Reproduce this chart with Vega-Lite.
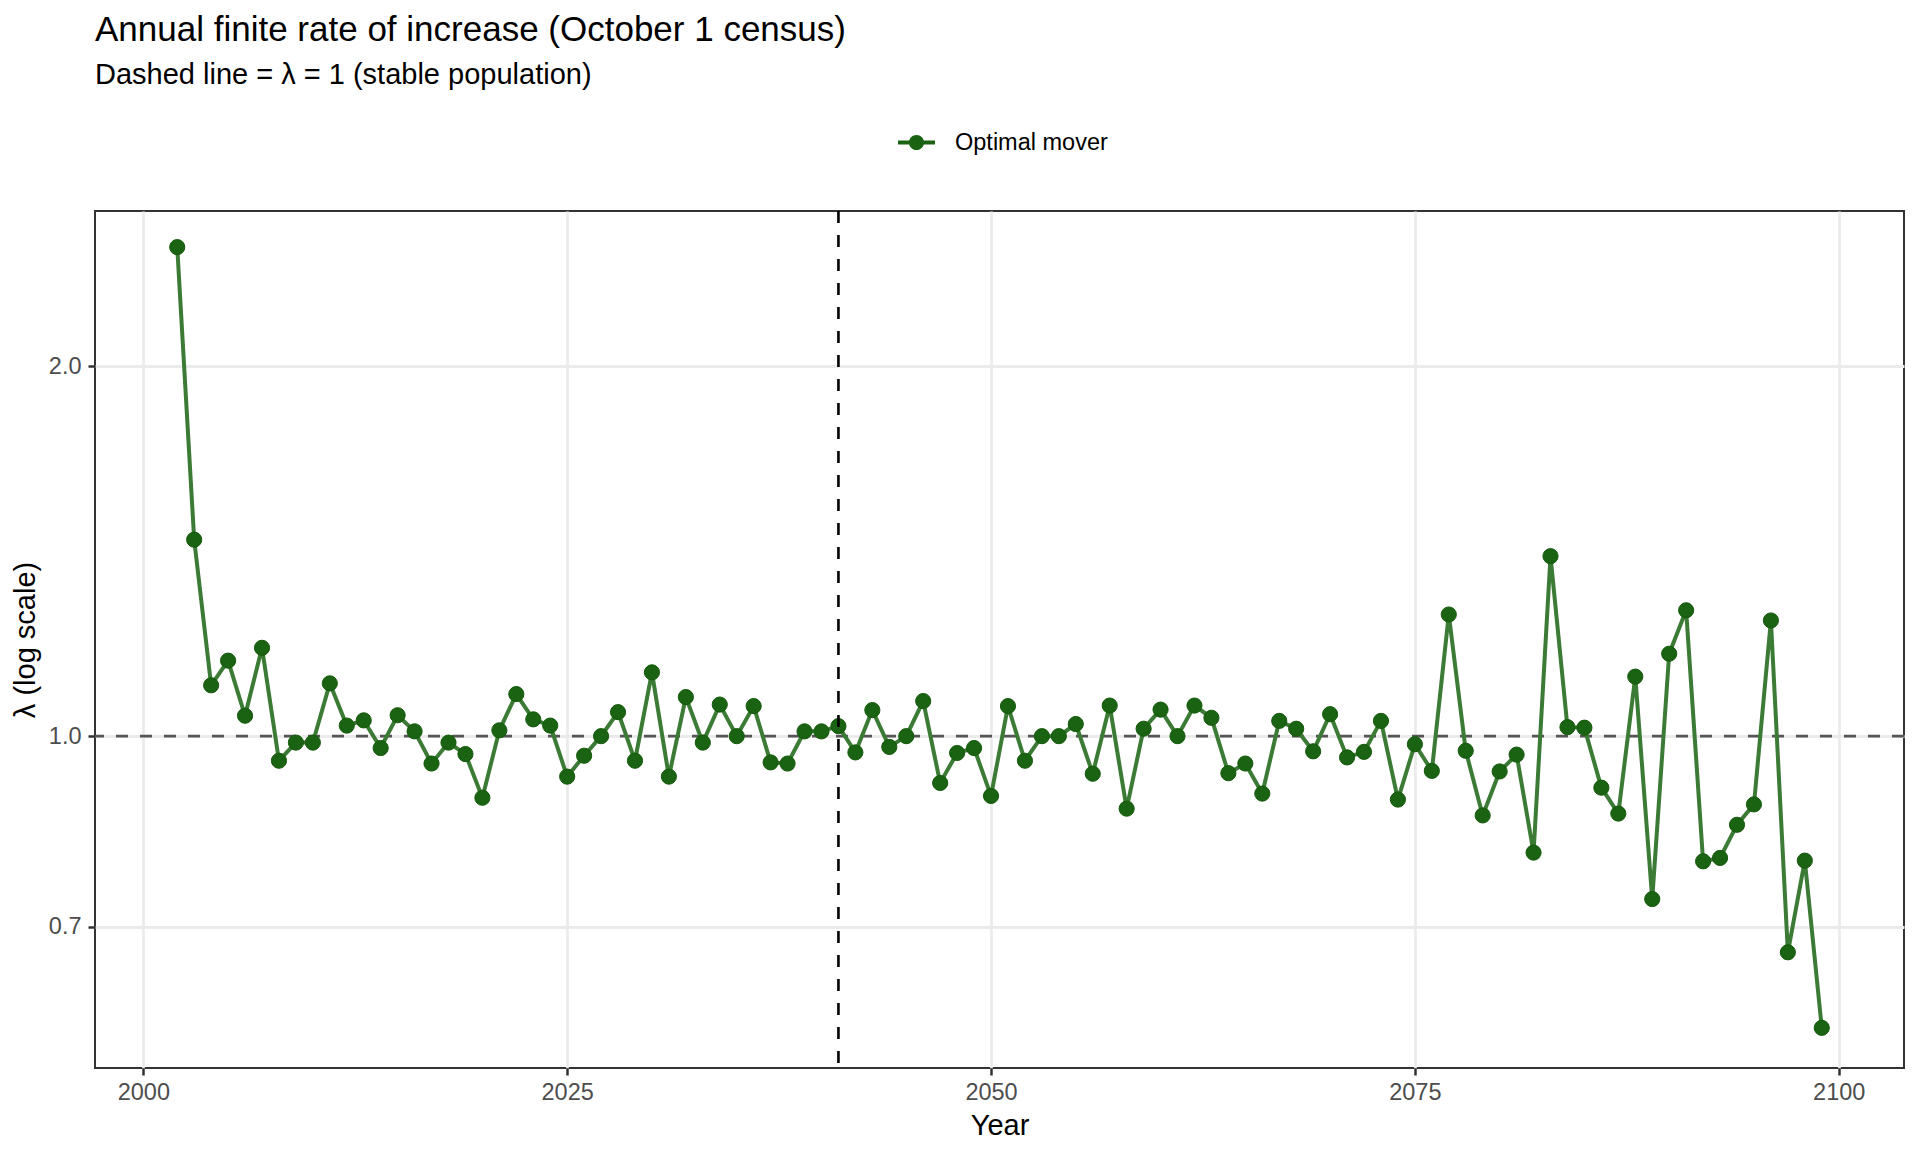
{
  "$schema": "https://vega.github.io/schema/vega-lite/v6.json",
  "width": 1809,
  "height": 857,
  "autosize": "none",
  "padding": {"left": 95, "top": 211, "right": 16, "bottom": 84},
  "background": "white",
  "title": {
    "text": "Annual finite rate of increase (October 1 census)",
    "subtitle": "Dashed line = λ = 1 (stable population)",
    "anchor": "start",
    "frame": "group",
    "font": "Liberation Sans",
    "fontSize": 35,
    "fontWeight": "normal",
    "color": "black",
    "subtitleFont": "Liberation Sans",
    "subtitleFontSize": 29,
    "subtitleColor": "black",
    "subtitlePadding": 13,
    "offset": 34
  },
  "data": {
    "values": [
      {"year": 2002, "lambda": 2.50, "series": "Optimal mover"},
      {"year": 2003, "lambda": 1.445, "series": "Optimal mover"},
      {"year": 2004, "lambda": 1.10, "series": "Optimal mover"},
      {"year": 2005, "lambda": 1.152, "series": "Optimal mover"},
      {"year": 2006, "lambda": 1.039, "series": "Optimal mover"},
      {"year": 2007, "lambda": 1.180, "series": "Optimal mover"},
      {"year": 2008, "lambda": 0.955, "series": "Optimal mover"},
      {"year": 2009, "lambda": 0.988, "series": "Optimal mover"},
      {"year": 2010, "lambda": 0.988, "series": "Optimal mover"},
      {"year": 2011, "lambda": 1.104, "series": "Optimal mover"},
      {"year": 2012, "lambda": 1.020, "series": "Optimal mover"},
      {"year": 2013, "lambda": 1.030, "series": "Optimal mover"},
      {"year": 2014, "lambda": 0.978, "series": "Optimal mover"},
      {"year": 2015, "lambda": 1.040, "series": "Optimal mover"},
      {"year": 2016, "lambda": 1.009, "series": "Optimal mover"},
      {"year": 2017, "lambda": 0.950, "series": "Optimal mover"},
      {"year": 2018, "lambda": 0.988, "series": "Optimal mover"},
      {"year": 2019, "lambda": 0.967, "series": "Optimal mover"},
      {"year": 2020, "lambda": 0.891, "series": "Optimal mover"},
      {"year": 2021, "lambda": 1.011, "series": "Optimal mover"},
      {"year": 2022, "lambda": 1.082, "series": "Optimal mover"},
      {"year": 2023, "lambda": 1.032, "series": "Optimal mover"},
      {"year": 2024, "lambda": 1.020, "series": "Optimal mover"},
      {"year": 2025, "lambda": 0.927, "series": "Optimal mover"},
      {"year": 2026, "lambda": 0.964, "series": "Optimal mover"},
      {"year": 2027, "lambda": 1.000, "series": "Optimal mover"},
      {"year": 2028, "lambda": 1.046, "series": "Optimal mover"},
      {"year": 2029, "lambda": 0.955, "series": "Optimal mover"},
      {"year": 2030, "lambda": 1.127, "series": "Optimal mover"},
      {"year": 2031, "lambda": 0.927, "series": "Optimal mover"},
      {"year": 2032, "lambda": 1.076, "series": "Optimal mover"},
      {"year": 2033, "lambda": 0.988, "series": "Optimal mover"},
      {"year": 2034, "lambda": 1.061, "series": "Optimal mover"},
      {"year": 2035, "lambda": 1.000, "series": "Optimal mover"},
      {"year": 2036, "lambda": 1.058, "series": "Optimal mover"},
      {"year": 2037, "lambda": 0.952, "series": "Optimal mover"},
      {"year": 2038, "lambda": 0.950, "series": "Optimal mover"},
      {"year": 2039, "lambda": 1.009, "series": "Optimal mover"},
      {"year": 2040, "lambda": 1.009, "series": "Optimal mover"},
      {"year": 2041, "lambda": 1.019, "series": "Optimal mover"},
      {"year": 2042, "lambda": 0.970, "series": "Optimal mover"},
      {"year": 2043, "lambda": 1.050, "series": "Optimal mover"},
      {"year": 2044, "lambda": 0.980, "series": "Optimal mover"},
      {"year": 2045, "lambda": 1.000, "series": "Optimal mover"},
      {"year": 2046, "lambda": 1.068, "series": "Optimal mover"},
      {"year": 2047, "lambda": 0.916, "series": "Optimal mover"},
      {"year": 2048, "lambda": 0.969, "series": "Optimal mover"},
      {"year": 2049, "lambda": 0.978, "series": "Optimal mover"},
      {"year": 2050, "lambda": 0.894, "series": "Optimal mover"},
      {"year": 2051, "lambda": 1.058, "series": "Optimal mover"},
      {"year": 2052, "lambda": 0.955, "series": "Optimal mover"},
      {"year": 2053, "lambda": 1.000, "series": "Optimal mover"},
      {"year": 2054, "lambda": 1.000, "series": "Optimal mover"},
      {"year": 2055, "lambda": 1.023, "series": "Optimal mover"},
      {"year": 2056, "lambda": 0.932, "series": "Optimal mover"},
      {"year": 2057, "lambda": 1.059, "series": "Optimal mover"},
      {"year": 2058, "lambda": 0.873, "series": "Optimal mover"},
      {"year": 2059, "lambda": 1.014, "series": "Optimal mover"},
      {"year": 2060, "lambda": 1.051, "series": "Optimal mover"},
      {"year": 2061, "lambda": 1.000, "series": "Optimal mover"},
      {"year": 2062, "lambda": 1.059, "series": "Optimal mover"},
      {"year": 2063, "lambda": 1.035, "series": "Optimal mover"},
      {"year": 2064, "lambda": 0.933, "series": "Optimal mover"},
      {"year": 2065, "lambda": 0.950, "series": "Optimal mover"},
      {"year": 2066, "lambda": 0.898, "series": "Optimal mover"},
      {"year": 2067, "lambda": 1.029, "series": "Optimal mover"},
      {"year": 2068, "lambda": 1.014, "series": "Optimal mover"},
      {"year": 2069, "lambda": 0.972, "series": "Optimal mover"},
      {"year": 2070, "lambda": 1.042, "series": "Optimal mover"},
      {"year": 2071, "lambda": 0.961, "series": "Optimal mover"},
      {"year": 2072, "lambda": 0.971, "series": "Optimal mover"},
      {"year": 2073, "lambda": 1.029, "series": "Optimal mover"},
      {"year": 2074, "lambda": 0.888, "series": "Optimal mover"},
      {"year": 2075, "lambda": 0.985, "series": "Optimal mover"},
      {"year": 2076, "lambda": 0.937, "series": "Optimal mover"},
      {"year": 2077, "lambda": 1.256, "series": "Optimal mover"},
      {"year": 2078, "lambda": 0.973, "series": "Optimal mover"},
      {"year": 2079, "lambda": 0.862, "series": "Optimal mover"},
      {"year": 2080, "lambda": 0.936, "series": "Optimal mover"},
      {"year": 2081, "lambda": 0.966, "series": "Optimal mover"},
      {"year": 2082, "lambda": 0.804, "series": "Optimal mover"},
      {"year": 2083, "lambda": 1.401, "series": "Optimal mover"},
      {"year": 2084, "lambda": 1.017, "series": "Optimal mover"},
      {"year": 2085, "lambda": 1.016, "series": "Optimal mover"},
      {"year": 2086, "lambda": 0.908, "series": "Optimal mover"},
      {"year": 2087, "lambda": 0.865, "series": "Optimal mover"},
      {"year": 2088, "lambda": 1.118, "series": "Optimal mover"},
      {"year": 2089, "lambda": 0.737, "series": "Optimal mover"},
      {"year": 2090, "lambda": 1.167, "series": "Optimal mover"},
      {"year": 2091, "lambda": 1.266, "series": "Optimal mover"},
      {"year": 2092, "lambda": 0.791, "series": "Optimal mover"},
      {"year": 2093, "lambda": 0.796, "series": "Optimal mover"},
      {"year": 2094, "lambda": 0.847, "series": "Optimal mover"},
      {"year": 2095, "lambda": 0.880, "series": "Optimal mover"},
      {"year": 2096, "lambda": 1.242, "series": "Optimal mover"},
      {"year": 2097, "lambda": 0.667, "series": "Optimal mover"},
      {"year": 2098, "lambda": 0.792, "series": "Optimal mover"},
      {"year": 2099, "lambda": 0.579, "series": "Optimal mover"}
    ]
  },
  "layer": [
    {
      "data": {"values": [{"lambda": 1}]},
      "mark": {"type": "rule", "color": "#555555", "strokeWidth": 2.6, "strokeDash": [12, 12]},
      "encoding": {
        "y": {"field": "lambda", "type": "quantitative", "scale": {"type": "log", "domain": [0.537, 2.675], "nice": false}}
      }
    },
    {
      "mark": {"type": "line", "color": "#3C7B36", "strokeWidth": 4},
      "encoding": {
        "x": {"field": "year", "type": "quantitative", "scale": {"domain": [1997.15, 2103.85], "nice": false, "zero": false}},
        "y": {"field": "lambda", "type": "quantitative", "scale": {"type": "log", "domain": [0.537, 2.675], "nice": false}}
      }
    },
    {
      "mark": {"type": "point", "filled": true, "size": 230, "opacity": 1, "stroke": "#155A0C", "strokeWidth": 1},
      "encoding": {
        "x": {
          "field": "year",
          "type": "quantitative",
          "scale": {"domain": [1997.15, 2103.85], "nice": false, "zero": false},
          "axis": {"values": [2000, 2025, 2050, 2075, 2100], "format": "d", "title": "Year"}
        },
        "y": {
          "field": "lambda",
          "type": "quantitative",
          "scale": {"type": "log", "domain": [0.537, 2.675], "nice": false},
          "axis": {"values": [0.7, 1, 2], "format": ".1f", "title": "λ (log scale)"}
        },
        "color": {
          "field": "series",
          "type": "nominal",
          "scale": {"range": ["#1A6312"]},
          "legend": {
            "title": null,
            "orient": "none",
            "legendX": 803,
            "legendY": -87,
            "symbolType": "M-1,-0.11L1,-0.11L1,0.11L-1,0.11Z M0.41,0A0.41,0.41 0 1 1 -0.41,0A0.41,0.41 0 1 1 0.41,0Z",
            "symbolSize": 1369,
            "symbolStrokeWidth": 0,
            "labelFont": "Liberation Sans",
            "labelFontSize": 23.5,
            "labelColor": "black",
            "labelOffset": 20
          }
        }
      }
    },
    {
      "data": {"values": [{"year": 2041}]},
      "mark": {"type": "rule", "color": "black", "strokeWidth": 2.6, "strokeDash": [12, 12]},
      "encoding": {
        "x": {"field": "year", "type": "quantitative", "scale": {"domain": [1997.15, 2103.85], "nice": false, "zero": false}}
      }
    }
  ],
  "config": {
    "font": "Liberation Sans",
    "view": {"stroke": "#333333", "strokeWidth": 2},
    "axis": {
      "grid": true,
      "gridColor": "#EBEBEB",
      "gridWidth": 2.8,
      "domain": false,
      "tickColor": "#333333",
      "tickWidth": 2.5,
      "tickSize": 7,
      "labelFont": "Liberation Sans",
      "labelFontSize": 23.5,
      "labelColor": "#4D4D4D",
      "titleFont": "Liberation Sans",
      "titleFontSize": 29,
      "titleFontWeight": "normal",
      "titleColor": "black"
    },
    "axisX": {"labelPadding": 5, "titlePadding": 8},
    "axisY": {"labelPadding": 7, "titlePadding": 7.5}
  }
}
